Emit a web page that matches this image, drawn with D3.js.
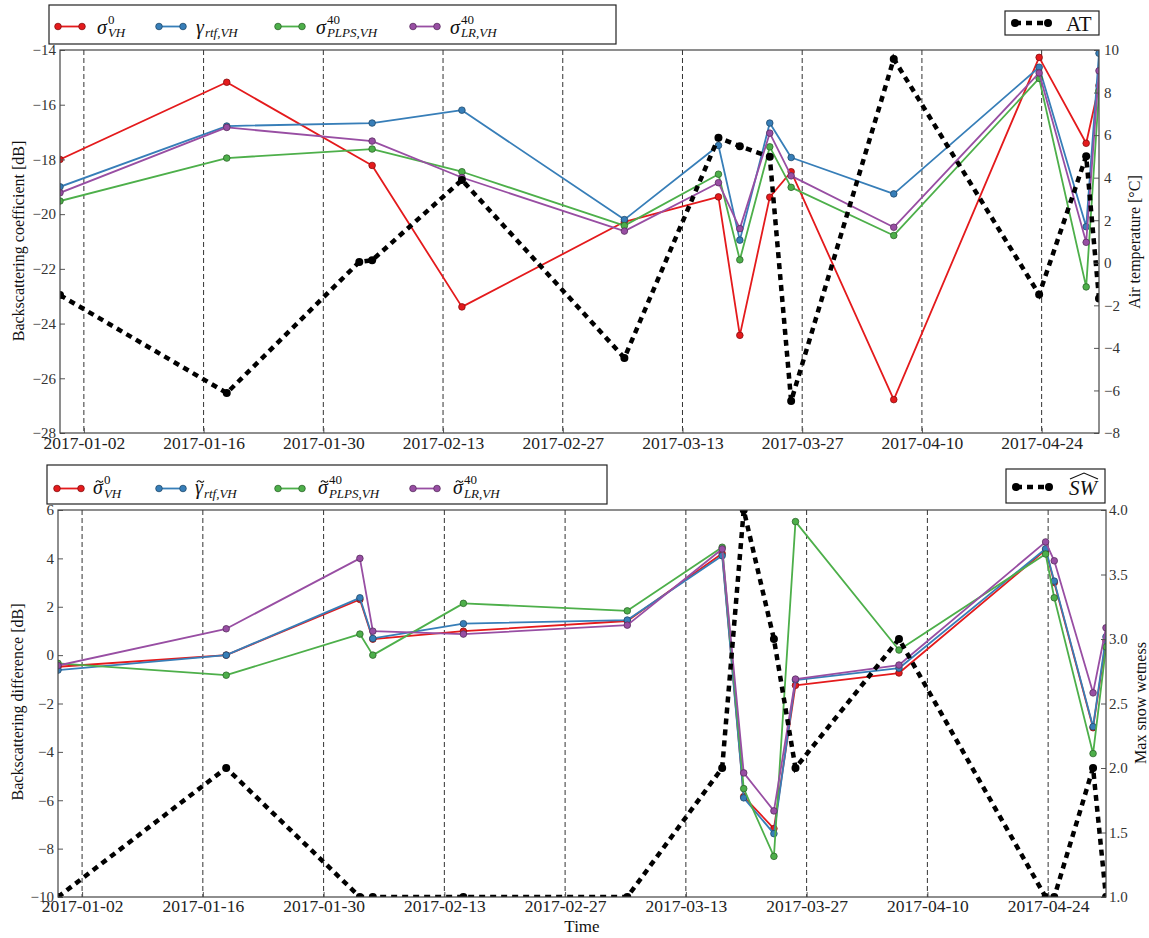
<!DOCTYPE html>
<html>
<head>
<meta charset="utf-8">
<script src="https://cdn.jsdelivr.net/npm/d3@7"></script>
<style>
  body { margin: 0; background: #fff; }
  svg { display: block; }
  svg text { font-family: "Liberation Serif", "Times New Roman", serif; }
</style>
</head>
<body>
<svg id="chart" width="1149" height="938"></svg>
<script>
// Sentinel-1 acquisition times (UTC)
const acquisitionDates = [
  "2016-12-30T05:00", "2017-01-18T17:00", "2017-02-03T05:00", "2017-02-04T17:00",
  "2017-02-15T05:00", "2017-03-06T05:00", "2017-03-17T05:00", "2017-03-19T17:00",
  "2017-03-23T05:00", "2017-03-25T17:00", "2017-04-06T17:00", "2017-04-23T17:00",
  "2017-04-24T17:00", "2017-04-29T05:00", "2017-04-30T17:00"
];

// Backscattering coefficient [dB] (null = no acquisition for that product)
const sigma0VH   = [-18.00, -15.18, null, -18.22, -23.39, -20.28, -19.37, -24.43, -19.38, -18.45, -26.78, -14.27, null, -17.41, -15.30];
const gammaRtfVH = [-19.00, -16.78, null, -16.67, -16.20, -20.20, -17.49, -20.95, -16.67, -17.93, -19.26, -14.63, null, -20.46, -14.12];
const sigma40PLPS = [-19.52, -17.95, null, -17.62, -18.45, -20.42, -18.54, -21.67, -17.54, -19.02, -20.78, -15.04, null, -22.66, -15.50];
const sigma40LR  = [-19.22, -16.83, null, -17.33, -18.66, -20.62, -18.85, -20.53, -17.04, -18.60, -20.48, -14.84, null, -21.03, -14.76];
// Air temperature [°C]
const airTemp    = [-1.52, -6.12, 0.04, 0.12, 3.89, -4.47, 5.88, 5.48, 4.98, -6.50, 9.58, -1.49, null, 5.01, -1.68];

// Backscattering difference [dB]
const dSigma0VH   = [-0.48, 0.00, 2.30, 0.66, 0.99, 1.41, 4.20, -5.85, -7.17, -1.25, -0.74, 4.35, 3.00, -3.00, 0.60];
const dGammaRtfVH = [-0.62, 0.00, 2.37, 0.69, 1.30, 1.45, 4.11, -5.90, -7.38, -1.03, -0.54, 4.40, 3.06, -2.96, 0.76];
const dSigma40PLPS = [-0.34, -0.83, 0.87, 0.00, 2.14, 1.83, 4.46, -5.52, -8.32, 5.52, 0.21, 4.18, 2.37, -4.07, 0.34];
const dSigma40LR  = [-0.43, 1.09, 4.00, 0.99, 0.87, 1.24, 4.39, -4.87, -6.44, -0.99, -0.41, 4.68, 3.90, -1.56, 1.13];
// Max snow wetness class
const maxSnowWetness = [1.0, 2.0, 1.0, 1.0, 1.0, 1.0, 2.0, 4.0, 3.0, 2.0, 3.0, 1.0, 1.0, 2.0, 1.0];

// Axis ticks
const timeTicks = ["2017-01-02", "2017-01-16", "2017-01-30", "2017-02-13", "2017-02-27", "2017-03-13", "2017-03-27", "2017-04-10", "2017-04-24"];
const coefTicks = [-28, -26, -24, -22, -20, -18, -16, -14];
const tempTicks = [-8, -6, -4, -2, 0, 2, 4, 6, 8, 10];
const diffTicks = [-10, -8, -6, -4, -2, 0, 2, 4, 6];
const wetTicks  = [1.0, 1.5, 2.0, 2.5, 3.0, 3.5, 4.0];

// Legend entries
const topLegend = [
  { base: "σ", sup: "0",  sub: "VH" },
  { base: "γ", sup: null, sub: "rtf,VH" },
  { base: "σ", sup: "40", sub: "PLPS,VH" },
  { base: "σ", sup: "40", sub: "LR,VH" }
];
const bottomLegend = [
  { base: "σ", tilde: true, sup: "0",  sub: "VH" },
  { base: "γ", tilde: true, sup: null, sub: "rtf,VH" },
  { base: "σ", tilde: true, sup: "40", sub: "PLPS,VH" },
  { base: "σ", tilde: true, sup: "40", sub: "LR,VH" }
];

const palette = ["#e41a1c", "#377eb8", "#4daf4a", "#984ea3"];

const svg = d3.select("#chart");
const parseTime = d3.utcParse("%Y-%m-%dT%H:%M");
const parseDay = d3.utcParse("%Y-%m-%d");
const dates = acquisitionDates.map(parseTime);
const tickDates = timeTicks.map(parseDay);

// symbol with stacked superscript / subscript in one text element; tilde accent drawn as a stroke
function mathLabel(g, x, yb, m) {
  const t = g.append("text").attr("x", x).attr("y", yb).attr("fill", "#111");
  const b = t.append("tspan").attr("font-size", 20).attr("font-style", "italic").text(m.base);
  const w = b.node().getComputedTextLength();
  let level = 0;
  if (m.sup) {
    t.append("tspan").attr("x", x + w + 1).attr("dy", -10).attr("font-size", 13).text(m.sup);
    level = -10;
  }
  if (m.sub) {
    t.append("tspan").attr("x", x + w + 1).attr("dy", 3.5 - level)
      .attr("font-size", 13).attr("font-style", "italic").text(m.sub);
  }
  if (m.tilde) {
    const cx = x + w / 2 + 1.5, ty = yb - 12.5;
    g.append("path")
      .attr("d", `M${cx - 3.6},${ty + 0.8} q1.8,-2.6 3.6,-0.8 t3.6,-0.8`)
      .attr("fill", "none").attr("stroke", "#111").attr("stroke-width", 1.1);
  }
}

function drawPanel(cfg) {
  const g = svg.append("g");
  const x = d3.scaleUtc().domain(d3.extent(dates)).range([cfg.left, cfg.right]);
  const y = d3.scaleLinear().domain(cfg.yDomain).range([cfg.bottom, cfg.top]);
  const y2 = d3.scaleLinear().domain(cfg.y2Domain).range([cfg.bottom, cfg.top]);

  const clipId = "clip-" + cfg.id;
  svg.append("defs").append("clipPath").attr("id", clipId)
    .append("rect").attr("x", cfg.left).attr("y", cfg.top)
    .attr("width", cfg.right - cfg.left).attr("height", cfg.bottom - cfg.top);

  // vertical grid at the time ticks
  g.append("g").selectAll("line").data(tickDates).join("line")
    .attr("x1", d => x(d)).attr("x2", d => x(d))
    .attr("y1", cfg.top).attr("y2", cfg.bottom)
    .attr("stroke", "#333").attr("stroke-width", 1).attr("stroke-dasharray", "5,3");

  const plot = g.append("g").attr("clip-path", `url(#${clipId})`);

  cfg.series.forEach((arr, i) => {
    const pts = dates.map((d, k) => ({ d, v: arr[k] })).filter(p => p.v != null);
    const line = d3.line().x(p => x(p.d)).y(p => y(p.v));
    plot.append("path").datum(pts).attr("d", line)
      .attr("fill", "none").attr("stroke", palette[i]).attr("stroke-width", 1.8)
      .attr("stroke-linejoin", "round");
    plot.append("g").selectAll("circle").data(pts).join("circle")
      .attr("cx", p => x(p.d)).attr("cy", p => y(p.v)).attr("r", 3.3)
      .attr("fill", palette[i]).attr("stroke", d3.color(palette[i]).darker(1.5)).attr("stroke-width", 0.8);
  });

  // secondary quantity, thick black dashed
  const pts2 = dates.map((d, k) => ({ d, v: cfg.second[k] })).filter(p => p.v != null);
  plot.append("path").datum(pts2)
    .attr("d", d3.line().x(p => x(p.d)).y(p => y2(p.v)))
    .attr("fill", "none").attr("stroke", "#000").attr("stroke-width", 4.5)
    .attr("stroke-dasharray", "6,5");
  plot.append("g").selectAll("circle").data(pts2).join("circle")
    .attr("cx", p => x(p.d)).attr("cy", p => y2(p.v)).attr("r", 4).attr("fill", "#000");

  // axes
  const axL = g.append("g").attr("transform", `translate(${cfg.left},0)`)
    .call(d3.axisLeft(y).tickValues(cfg.yTicks).tickSize(-5).tickPadding(4).tickFormat(d3.format("d")));
  const axR = g.append("g").attr("transform", `translate(${cfg.right},0)`)
    .call(d3.axisRight(y2).tickValues(cfg.y2Ticks).tickSize(-5).tickPadding(cfg.rPad).tickFormat(d3.format(cfg.y2Format)));
  const axB = g.append("g").attr("transform", `translate(0,${cfg.bottom})`)
    .call(d3.axisBottom(x).tickValues(tickDates).tickSize(-5).tickPadding(cfg.bPad).tickFormat(d3.utcFormat("%Y-%m-%d")));
  [axL, axR, axB].forEach(a => {
    a.select(".domain").remove();
    a.selectAll(".tick line").attr("stroke", "#555");
    a.selectAll("text").attr("fill", "#333");
  });
  axL.selectAll("text").attr("font-size", 15);
  axR.selectAll("text").attr("font-size", 15);
  axB.selectAll("text").attr("font-size", 17.5).attr("fill", "#222");

  // frame
  g.append("rect").attr("x", cfg.left).attr("y", cfg.top)
    .attr("width", cfg.right - cfg.left).attr("height", cfg.bottom - cfg.top)
    .attr("fill", "none").attr("stroke", "#444").attr("stroke-width", 1.2);

  // axis titles
  g.append("text").attr("transform", `translate(${cfg.yLabelX},${cfg.yLabelY}) rotate(-90)`)
    .attr("text-anchor", "middle").attr("dominant-baseline", "central")
    .attr("font-size", 16).attr("fill", "#111").text(cfg.yLabel);
  g.append("text").attr("transform", `translate(${cfg.y2LabelX},${cfg.y2LabelY}) rotate(-90)`)
    .attr("text-anchor", "middle").attr("dominant-baseline", "central")
    .attr("font-size", 16).attr("fill", "#111").text(cfg.y2Label);

  // main legend
  const lg = svg.append("g");
  const L = cfg.legend;
  lg.append("rect").attr("x", L.x0).attr("y", L.y0).attr("width", L.x1 - L.x0).attr("height", L.y1 - L.y0)
    .attr("fill", "#fff").attr("stroke", "#222").attr("stroke-width", 1.2);
  cfg.legendEntries.forEach((m, i) => {
    const lx = L.lines[i];
    lg.append("line").attr("x1", lx).attr("x2", lx + 24).attr("y1", L.ly).attr("y2", L.ly)
      .attr("stroke", palette[i]).attr("stroke-width", 1.8);
    [lx, lx + 24].forEach(cx => lg.append("circle").attr("cx", cx).attr("cy", L.ly).attr("r", 3.3)
      .attr("fill", palette[i]).attr("stroke", d3.color(palette[i]).darker(1.5)).attr("stroke-width", 0.8));
    mathLabel(lg, L.labels[i], L.base, m);
  });

  // secondary legend
  const R = cfg.legend2;
  lg.append("rect").attr("x", R.x0).attr("y", R.y0).attr("width", R.x1 - R.x0).attr("height", R.y1 - R.y0)
    .attr("fill", "#fff").attr("stroke", "#222").attr("stroke-width", 1.2);
  lg.append("line").attr("x1", R.lx).attr("x2", R.lx + 33).attr("y1", R.ly).attr("y2", R.ly)
    .attr("stroke", "#000").attr("stroke-width", 4.5).attr("stroke-dasharray", "6,5");
  [R.lx, R.lx + 33].forEach(cx => lg.append("circle").attr("cx", cx).attr("cy", R.ly).attr("r", 4).attr("fill", "#000"));
  const tt = lg.append("text").attr("x", R.tx).attr("y", R.ty).attr("font-size", 21)
    .attr("font-style", R.italic ? "italic" : "normal").attr("fill", "#111").text(R.text);
  if (R.hat) {
    const w = tt.node().getComputedTextLength();
    const hx0 = R.tx + 1, hx1 = R.tx + w + 1, hy = R.ty - 16;
    lg.append("path")
      .attr("d", `M${hx0},${hy} L${(hx0 + hx1) / 2},${hy - 6} L${hx1},${hy}`)
      .attr("fill", "none").attr("stroke", "#111").attr("stroke-width", 1.1);
  }
}

drawPanel({
  id: "top", left: 60, right: 1099, top: 50, bottom: 433,
  yDomain: [-28, -14], y2Domain: [-8, 10],
  yTicks: coefTicks, y2Ticks: tempTicks, y2Format: "d", rPad: 5, bPad: 4,
  series: [sigma0VH, gammaRtfVH, sigma40PLPS, sigma40LR],
  second: airTemp,
  yLabel: "Backscattering coefficient [dB]", yLabelX: 18, yLabelY: 241,
  y2Label: "Air temperature [°C]", y2LabelX: 1134, y2LabelY: 242,
  legendEntries: topLegend,
  legend: { x0: 49, y0: 5, x1: 616, y1: 44, ly: 26.5, base: 33.5,
            lines: [58, 159, 278, 413], labels: [97, 196, 316, 450] },
  legend2: { x0: 1005, y0: 11, x1: 1099, y1: 35, lx: 1015, ly: 23, tx: 1066, ty: 31, text: "AT", italic: false }
});

drawPanel({
  id: "bottom", left: 58, right: 1106, top: 510, bottom: 897,
  yDomain: [-10, 6], y2Domain: [1, 4],
  yTicks: diffTicks, y2Ticks: wetTicks, y2Format: ".1f", rPad: 3, bPad: 3,
  series: [dSigma0VH, dGammaRtfVH, dSigma40PLPS, dSigma40LR],
  second: maxSnowWetness,
  yLabel: "Backscattering difference [dB]", yLabelX: 17, yLabelY: 702,
  y2Label: "Max snow wetness", y2LabelX: 1140, y2LabelY: 703,
  legendEntries: bottomLegend,
  legend: { x0: 47, y0: 465, x1: 607, y1: 504, ly: 488.5, base: 494,
            lines: [57, 159, 278, 413], labels: [93, 195, 318, 453] },
  legend2: { x0: 1006, y0: 469, x1: 1105, y1: 503, lx: 1016, ly: 487, tx: 1069, ty: 495, text: "SW", italic: true, hat: true }
});

// shared time axis title
svg.append("text").attr("x", 582).attr("y", 932).attr("text-anchor", "middle")
  .attr("font-size", 17).attr("fill", "#111").text("Time");
</script>
</body>
</html>
